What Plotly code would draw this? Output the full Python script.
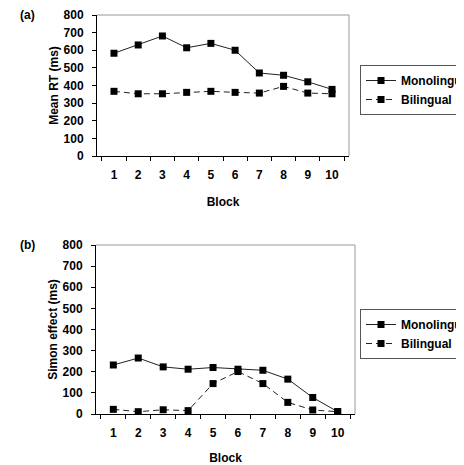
import plotly.graph_objects as go

blocks = ["1", "2", "3", "4", "5", "6", "7", "8", "9", "10"]
rt_mono = [583, 630, 681, 614, 639, 600, 471, 458, 421, 378]
rt_bili = [367, 353, 353, 361, 367, 361, 357, 395, 357, 353]
simon_mono = [232, 265, 223, 212, 220, 212, 207, 165, 78, 11]
simon_bili = [22, 11, 20, 16, 144, 201, 144, 55, 19, 11]
y_ticks = [0, 100, 200, 300, 400, 500, 600, 700, 800]

# the page body has an 8px default margin; work in page coordinates
OFF = 8
W, H = 464 - OFF, 465 - OFF
FONT = dict(family="Liberation Sans, Arial, sans-serif", size=12, color="black", weight="bold")

fig = go.Figure()

def add_series(x, y, name, dash, xa, ya, legend):
    fig.add_trace(go.Scatter(
        x=x, y=y, name=name, mode="lines+markers",
        line=dict(color="#222222", width=1, dash=dash),
        marker=dict(symbol="square", size=7, color="black"),
        xaxis=xa, yaxis=ya, legend=legend, showlegend=True,
    ))

add_series(blocks, rt_mono, "Monolingual", "solid", "x", "y", "legend")
add_series(blocks, rt_bili, "Bilingual", "6px,4px", "x", "y", "legend")
add_series(blocks, simon_mono, "Monolingual", "solid", "x2", "y2", "legend2")
add_series(blocks, simon_bili, "Bilingual", "6px,4px", "x2", "y2", "legend2")

def fx(px):
    return (px - OFF) / W

def fy(py):
    return 1 - (py - OFF) / H

xcommon = dict(
    type="category", tickson="boundaries", ticks="outside", ticklen=4,
    tickcolor="black", showline=True, linecolor="black", linewidth=1,
    showgrid=False, zeroline=False, tickfont=FONT, ticklabelstandoff=8,
    title=dict(text="Block", font=FONT, standoff=16), fixedrange=True,
)
ycommon = dict(
    range=[0, 800], tickvals=y_ticks, ticks="outside", ticklen=4,
    tickcolor="black", showline=True, linecolor="black", linewidth=1,
    showgrid=False, zeroline=False, tickfont=FONT, ticklabelstandoff=6,
    fixedrange=True,
)
legcommon = dict(xanchor="left", yanchor="top", bordercolor="#555555",
                 borderwidth=1, bgcolor="white", font=FONT, tracegroupgap=0)

fig.update_layout(
    width=W, height=H,
    margin=dict(l=0, r=0, t=0, b=0, autoexpand=False),
    paper_bgcolor="white", plot_bgcolor="white",
    font=FONT,
    xaxis=dict(xcommon, domain=[fx(97), fx(349)], anchor="y"),
    yaxis=dict(ycommon, domain=[fy(156), fy(15)], anchor="x",
               title=dict(text="Mean RT (ms)", font=FONT, standoff=2)),
    xaxis2=dict(xcommon, domain=[fx(96), fx(355)], anchor="y2"),
    yaxis2=dict(ycommon, domain=[fy(414), fy(245)], anchor="x2",
                title=dict(text="Simon effect (ms)", font=FONT, standoff=2)),
    legend=dict(legcommon, x=fx(360), y=fy(65)),
    legend2=dict(legcommon, x=fx(360), y=fy(309)),
    showlegend=True,
)

for xr, yr in (("x", "y"), ("x2", "y2")):
    fig.add_shape(type="line", xref=f"{xr} domain", yref=f"{yr} domain",
                  x0=0, x1=1, y0=1, y1=1, line=dict(color="#999999", width=1))
    fig.add_shape(type="line", xref=f"{xr} domain", yref=f"{yr} domain",
                  x0=1, x1=1, y0=0, y1=1, line=dict(color="#999999", width=1))

fig.add_annotation(text="(a)", xref="paper", yref="paper", x=fx(27), y=fy(15),
                   showarrow=False, font=FONT, xanchor="center", yanchor="middle")
fig.add_annotation(text="(b)", xref="paper", yref="paper", x=fx(27), y=fy(245),
                   showarrow=False, font=FONT, xanchor="center", yanchor="middle")

fig.write_html("out.html")
